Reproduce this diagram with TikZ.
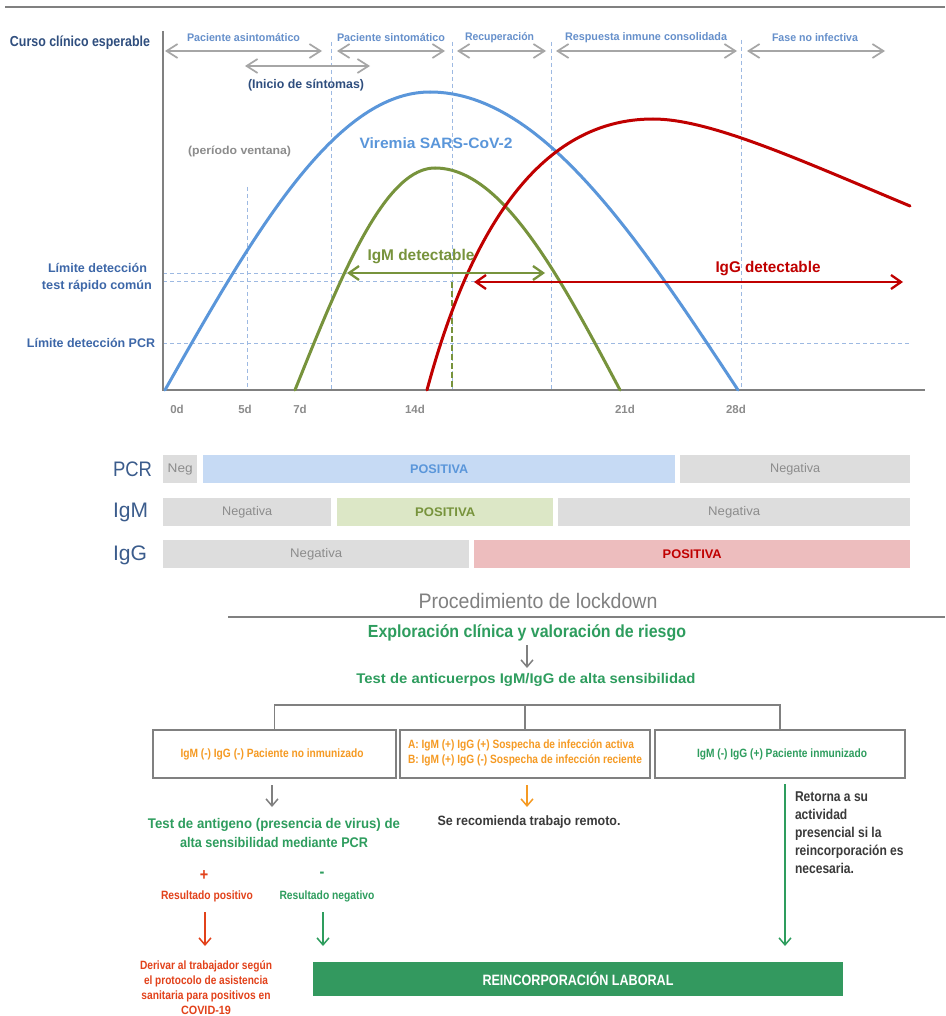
\documentclass[tikz,border=0pt]{standalone}
\usepackage{fontspec}
\setmainfont{Liberation Sans}
\newfontfamily\nf[FakeStretch=0.85]{Liberation Sans}
\usetikzlibrary{arrows.meta}
\newcommand\fx[2]{\resizebox{#1pt}{\height}{#2}}
\newcommand\fsz[1]{\fontsize{#1}{#1}\selectfont}
\definecolor{dblue}{HTML}{2F4E7E}
\definecolor{lblue}{HTML}{3D67A8}
\definecolor{phase}{HTML}{6690CB}
\definecolor{agray}{HTML}{A6A6A6}
\definecolor{axgray}{HTML}{808080}
\definecolor{dashc}{HTML}{9DB9E2}
\definecolor{vblue}{HTML}{5A96DA}
\definecolor{igmg}{HTML}{77933C}
\definecolor{iggr}{HTML}{C00000}
\definecolor{tgray}{HTML}{8C8C8C}
\definecolor{barg}{HTML}{DDDDDD}
\definecolor{barb}{HTML}{C6DAF4}
\definecolor{barv}{HTML}{DCE7C6}
\definecolor{barr}{HTML}{EDBDBE}
\definecolor{fgreen}{HTML}{2E9D5E}
\definecolor{forange}{HTML}{F59A23}
\definecolor{fred}{HTML}{E2421B}
\definecolor{dtext}{HTML}{3A3A3A}
\definecolor{boxg}{HTML}{33995F}
\definecolor{rowc}{HTML}{3B5C8C}
\begin{document}
\begin{tikzpicture}[x=1pt,y=-1pt,
  txt/.style={inner sep=0pt, outer sep=0pt},
  phasearr/.style={draw=agray, line width=1.7pt, {Straight Barb[length=11pt,width=14pt]}-{Straight Barb[length=11pt,width=14pt]}},
  vdash/.style={draw=dashc, line width=1pt, dash pattern=on 4pt off 3pt},
  vcurve/.style={line width=3pt, line cap=round},
  barbox/.style={inner sep=0pt, minimum height=28pt, anchor=west},
  flowbox/.style={draw=axgray, line width=1.8pt, minimum height=48pt, inner sep=0pt},
  farr/.style={line width=1.5pt, -{Straight Barb[length=7pt,width=12pt]}},
  detarr/.style={line width=2.3pt, {Straight Barb[length=10pt,width=14pt]}-{Straight Barb[length=10pt,width=14pt]}},
]
\useasboundingbox (0,0) rectangle (945,1016);
\fill[white] (0,0) rectangle (945,1016);

% top rule
\draw[axgray, line width=1.5pt] (5,7) -- (945,7);

% ---------- chart ----------
\node[txt, text=dblue, font=\bfseries\fsz{14.5}] (curso) at (80,43) {\fx{140}{Curso clínico esperable}};

% dashed guides
\draw[vdash] (163,273) -- (347,273);
\draw[vdash] (163,281) -- (475,281);
\draw[vdash] (163,343) -- (910,343);
\draw[vdash] (247,187) -- (247,390);
\draw[vdash] (331,42) -- (331,390);
\draw[vdash] (452,42) -- (452,390);
\draw[vdash] (551,42) -- (551,390);
\draw[vdash] (741,40) -- (741,390);
\draw[igmg, line width=2pt, dash pattern=on 6pt off 3pt] (452,282) -- (452,390);

% axes
\draw[axgray, line width=2.5pt] (163,31) -- (163,390) -- (925,390);

% phase arrows
\coordinate (p1a) at (165,51); \coordinate (p1b) at (322,51);
\coordinate (p2a) at (337,51); \coordinate (p2b) at (445,51);
\coordinate (p3a) at (457,51); \coordinate (p3b) at (546,51);
\coordinate (p4a) at (556,51); \coordinate (p4b) at (737,51);
\coordinate (p5a) at (747,51); \coordinate (p5b) at (885,51);
\coordinate (ina) at (245,66); \coordinate (inb) at (370,66);
\draw[phasearr] (p1a) -- (p1b);
\draw[phasearr] (p2a) -- (p2b);
\draw[phasearr] (p3a) -- (p3b);
\draw[phasearr] (p4a) -- (p4b);
\draw[phasearr] (p5a) -- (p5b);
\draw[phasearr] (ina) -- (inb);
\node[txt, text=phase, font=\bfseries\fsz{11}] (ph1) at (243.5,38) {\fx{113}{Paciente asintomático}};
\node[txt, text=phase, font=\bfseries\fsz{11}] (ph2) at (391,38) {\fx{108}{Paciente sintomático}};
\node[txt, text=phase, font=\bfseries\fsz{11}] (ph3) at (499.5,38) {\fx{69}{Recuperación}};
\node[txt, text=phase, font=\bfseries\fsz{11}] (ph4) at (646,38) {\fx{162}{Respuesta inmune consolidada}};
\node[txt, text=phase, font=\bfseries\fsz{11}] (ph5) at (815,38) {\fx{86}{Fase no infectiva}};
\node[txt, text=dblue, font=\bfseries\fsz{12.5}] (inicio) at (306,85) {\fx{116}{(Inicio de síntomas)}};
\node[txt, text=tgray, font=\bfseries\fsz{11.5}] (ventana) at (239.5,151) {\fx{103}{(período ventana)}};

% left labels
\node[txt, text=lblue, font=\bfseries\fsz{12.5}] (lim1) at (97.5,268) {\fx{99}{Límite detección}};
\node[txt, text=lblue, font=\bfseries\fsz{12.5}] (lim2) at (97,286) {\fx{110}{test rápido común}};
\node[txt, text=lblue, font=\bfseries\fsz{12.5}] (lim3) at (91,343) {\fx{128}{Límite detección PCR}};

% curves
\draw[vcurve, vblue] plot[domain=165:430, samples=40, smooth] (\x,{390-298*sin((\x-165)/265*90)});
\draw[vcurve, vblue] plot[domain=430:738, samples=40, smooth] (\x,{390-298*cos((\x-430)/308*90)});
\draw[vcurve, igmg] plot[domain=295:435, samples=40, smooth] (\x,{390-222*sin((\x-295)/140*90)});
\draw[vcurve, igmg] plot[domain=435:620, samples=40, smooth] (\x,{390-222*cos((\x-435)/185*90)});
\draw[vcurve, iggr] (427,390) .. controls (470,230) and (540,119) .. (653,119) .. controls (710,119) and (800,160) .. (910,206);

% detectable arrows
\coordinate (ma) at (347,273); \coordinate (mb) at (545,273);
\coordinate (ga) at (474,282); \coordinate (gb) at (903,282);
\draw[detarr, igmg] (ma) -- (mb);
\draw[detarr, iggr] (ga) -- (gb);
\node[txt, text=igmg, font=\bfseries\fsz{15.5}] (igmlab) at (421,257) {\fx{107}{IgM detectable}};
\node[txt, text=iggr, font=\bfseries\fsz{15.5}] (igglab) at (768,269) {\fx{105}{IgG detectable}};
\node[txt, text=vblue, font=\bfseries\fsz{15}] (virlab) at (436,143) {\fx{153}{Viremia SARS-CoV-2}};

% ticks
\node[txt, text=tgray, font=\bfseries\fsz{11.5}] (t0) at (177,409) {0d};
\node[txt, text=tgray, font=\bfseries\fsz{11.5}] (t5) at (245,409) {5d};
\node[txt, text=tgray, font=\bfseries\fsz{11.5}] (t7) at (300,409) {7d};
\node[txt, text=tgray, font=\bfseries\fsz{11.5}] (t14) at (415,409) {14d};
\node[txt, text=tgray, font=\bfseries\fsz{11.5}] (t21) at (625,409) {21d};
\node[txt, text=tgray, font=\bfseries\fsz{11.5}] (t28) at (736,409) {28d};

% ---------- result bars ----------
\node[txt, text=rowc, font=\nf\fsz{21}] (rpcr) at (132.5,469) {\fx{39}{PCR}};
\node[txt, text=rowc, font=\nf\fsz{21}] (rigm) at (130.5,512) {\fx{35}{IgM}};
\node[txt, text=rowc, font=\nf\fsz{21}] (rigg) at (130,555) {\fx{34}{IgG}};

\node[barbox, fill=barg, minimum width=34pt, text=tgray, font=\nf\fsz{12.5}] (pcr1) at (163,469) {\fx{25}{Neg}};
\node[barbox, fill=barb, minimum width=472pt, text=vblue, font=\nf\bfseries\fsz{12.5}] (pcr2) at (203,469) {\fx{58}{POSITIVA}};
\node[barbox, fill=barg, minimum width=230pt, text=tgray, font=\nf\fsz{12.5}] (pcr3) at (680,469) {\fx{50}{Negativa}};
\node[barbox, fill=barg, minimum width=168pt, text=tgray, font=\nf\fsz{12.5}] (igm1) at (163,512) {\fx{50}{Negativa}};
\node[barbox, fill=barv, minimum width=216pt, text=igmg, font=\nf\bfseries\fsz{12.5}] (igm2) at (337,512) {\fx{60}{POSITIVA}};
\node[barbox, fill=barg, minimum width=352pt, text=tgray, font=\nf\fsz{12.5}] (igm3) at (558,512) {\fx{52}{Negativa}};
\node[barbox, fill=barg, minimum width=306pt, text=tgray, font=\nf\fsz{12.5}] (igg1) at (163,554) {\fx{52}{Negativa}};
\node[barbox, fill=barr, minimum width=436pt, text=iggr, font=\nf\bfseries\fsz{12.5}] (igg2) at (474,554) {\fx{59}{POSITIVA}};

% ---------- flowchart ----------
\node[txt, text=axgray, font=\nf\fsz{21}] (title) at (538,601) {\fx{239}{Procedimiento de lockdown}};
\draw[axgray, line width=2pt] (228,617) -- (945,617);
\node[txt, text=fgreen, font=\nf\bfseries\fsz{17.5}] (explor) at (527,633) {\fx{318}{Exploración clínica y valoración de riesgo}};
\node[txt, text=fgreen, font=\nf\bfseries\fsz{14}] (test) at (526,680) {\fx{339}{Test de anticuerpos IgM/IgG de alta sensibilidad}};
\coordinate (ea) at (527,645); \coordinate (eb) at (527,668);
\draw[farr, axgray] (ea) -- (eb);

\node[flowbox, minimum width=243pt] (b1) at (274.5,754) {};
\node[flowbox, minimum width=250pt] (b2) at (525,754) {};
\node[flowbox, minimum width=250pt] (b3) at (780,754) {};
\node[txt, text=forange, font=\nf\bfseries\fsz{12}] (b1t) at (272,754) {\fx{183}{IgM (-) IgG (-) Paciente no inmunizado}};
\node[txt, text=forange, font=\nf\bfseries\fontsize{12}{15.5}\selectfont, align=left, anchor=west] (b2t) at (408,753) {\fx{226}{A: IgM (+) IgG (+) Sospecha de infección activa}\\\fx{234}{B: IgM (+) IgG (-) Sospecha de infección reciente}};
\node[txt, text=fgreen, font=\nf\bfseries\fsz{12}] (b3t) at (782,754) {\fx{170}{IgM (-) IgG (+) Paciente inmunizado}};
\draw[axgray, line width=1.8pt] (b1.north) -- ++(0,-24) -| (b3.north);
\draw[axgray, line width=1.8pt] (b2.north) -- ++(0,-24);

\node[txt, text=fgreen, font=\nf\bfseries\fontsize{14}{19}\selectfont, align=center] (antig) at (274,833) {\fx{252}{Test de antigeno (presencia de virus) de}\\\fx{188}{alta sensibilidad mediante PCR}};
\node[txt, text=dtext, font=\nf\bfseries\fsz{13.5}] (remote) at (529,822) {\fx{183}{Se recomienda trabajo remoto.}};
\node[txt, text=dtext, font=\nf\bfseries\fontsize{14.2}{18}\selectfont, align=left, anchor=north west] (ret) at (795,792) {Retorna a su\\actividad\\presencial si la\\reincorporación es\\necesaria.};

\coordinate (a1a) at (272,785); \coordinate (a1b) at (272,807);
\coordinate (a2a) at (527,785); \coordinate (a2b) at (527,807);
\draw[farr, axgray] (a1a) -- (a1b);
\draw[farr, forange] (a2a) -- (a2b);

\node[txt, text=fred, font=\nf\bfseries\fsz{17}] (plus) at (204,876) {+};
\node[txt, text=fgreen, font=\nf\bfseries\fsz{17}] (minus) at (322,875) {-};
\node[txt, text=fred, font=\nf\bfseries\fsz{12}] (rpos) at (207,896) {\fx{92}{Resultado positivo}};
\node[txt, text=fgreen, font=\nf\bfseries\fsz{12}] (rneg) at (327,896) {\fx{95}{Resultado negativo}};
\node[txt, text=fred, font=\nf\bfseries\fontsize{12}{15}\selectfont, align=center, anchor=north] (deriv) at (206,961) {\fx{132}{Derivar al trabajador según}\\\fx{124}{el protocolo de asistencia}\\\fx{129}{sanitaria para positivos en}\\\fx{50}{COVID-19}};
\node[fill=boxg, minimum width=530pt, minimum height=34pt, inner sep=0pt] (reinc) at (578,979) {};
\node[txt, text=white, font=\nf\bfseries\fsz{15}] (reinct) at (578,979) {\fx{191}{REINCORPORACIÓN LABORAL}};

\coordinate (r1a) at (205,912); \coordinate (r1b) at (205,946);
\coordinate (n1a) at (323,912); \coordinate (n1b) at (323,946);
\draw[farr, fred] (r1a) -- (r1b);
\draw[farr, fgreen] (n1a) -- (n1b);
\coordinate (gtop) at (785,784);
\coordinate (gbot) at (785,946);
\draw[farr, fgreen] (gtop) -- (gbot);
\end{tikzpicture}
\end{document}
